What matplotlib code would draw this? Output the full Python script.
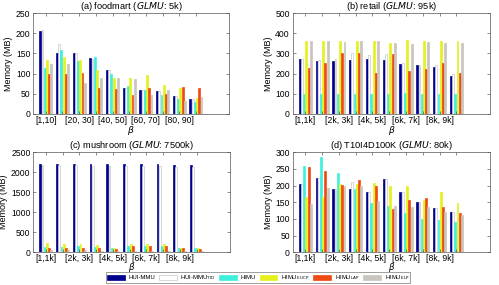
import matplotlib
matplotlib.use("Agg")
import matplotlib.pyplot as plt
import numpy as np
from matplotlib.patches import Patch

plt.rcParams['font.family'] = ['Liberation Sans', 'DejaVu Sans']

series_names = ['HUI-MMU', r'HUI-MMU$_{\mathrm{TID}}$', 'HIMU',
                r'HIMU$_{\mathrm{EUCP}}$', r'HIMU$_{\mathrm{LAP}}$', r'HIMU$_{\mathrm{ELP}}$']
colors = ['#00008f', '#ffffff', '#3ef0dc', '#e6f01e', '#f04a14', '#c9c5bd']
edgecolors = ['#00008f', '#c8c8c8', '#3ef0dc', '#e6f01e', '#f04a14', '#c9c5bd']

# (a) foodmart
labels_a = ['[1,10]', '', '[20, 30]', '', '[40, 50]', '', '[60, 70]', '', '[80, 90]', '']
a_huimmu = [206, 152, 150, 138, 108, 63, 58, 56, 43, 37]
a_tid    = [208, 174, 150, 136, 108, 63, 58, 56, 43, 37]
a_himu   = [113, 159, 131, 140, 100, 69, 58, 46, 37, 29]
a_eucp   = [134, 141, 133, 109, 89, 89, 96, 71, 63, 38]
a_lap    = [100, 100, 102, 64, 61, 47, 65, 49, 66, 63]
a_elp    = [124, 124, 76, 88, 88, 86, 47, 59, 32, 42]

# (b) retail
labels_b = ['[1,1k]', '', '[2k, 3k]', '', '[4k, 5k]', '', '[6k, 7k]', '', '[8k, 9k]', '']
b_huimmu = [271, 262, 261, 266, 272, 266, 246, 243, 234, 189]
b_tid    = [272, 266, 272, 301, 292, 297, 254, 243, 241, 198]
b_himu   = [100, 100, 100, 100, 100, 100, 103, 100, 100, 100]
b_eucp   = [362, 362, 362, 362, 362, 352, 367, 362, 360, 362]
b_lap    = [229, 251, 301, 304, 203, 296, 214, 221, 254, 201]
b_elp    = [362, 362, 357, 362, 362, 350, 349, 355, 352, 354]

# (c) mushroom
labels_c = labels_b
c_huimmu = [2216, 2216, 2207, 2207, 2207, 2207, 2199, 2199, 2182, 2174]
c_tid    = [2180, 2170, 2170, 2160, 2150, 2150, 2150, 2150, 2140, 2140]
c_himu   = [127, 127, 144, 127, 102, 161, 161, 153, 102, 102]
c_eucp   = [229, 203, 203, 170, 110, 195, 203, 195, 110, 110]
c_lap    = [102, 93, 93, 93, 85, 161, 161, 144, 93, 85]
c_elp    = [51, 51, 51, 42, 42, 42, 42, 42, 42, 34]

# (d) T10I4D100K
labels_d = labels_b
d_huimmu = [205, 224, 189, 189, 180, 219, 180, 150, 132, 120]
d_tid    = [205, 224, 189, 211, 180, 219, 180, 150, 132, 120]
d_himu   = [258, 286, 237, 190, 147, 140, 118, 100, 97, 90]
d_eucp   = [165, 166, 204, 204, 207, 200, 200, 157, 180, 147]
d_lap    = [255, 243, 202, 218, 200, 130, 156, 163, 137, 118]
d_elp    = [144, 192, 200, 200, 155, 140, 136, 135, 121, 111]

panels = [
    ('(a) foodmart (', '5k)', labels_a, [a_huimmu, a_tid, a_himu, a_eucp, a_lap, a_elp], 250, 50),
    ('(b) retail (', '95k)', labels_b, [b_huimmu, b_tid, b_himu, b_eucp, b_lap, b_elp], 500, 100),
    ('(c) mushroom (', '7500k)', labels_c, [c_huimmu, c_tid, c_himu, c_eucp, c_lap, c_elp], 2500, 500),
    ('(d) T10I4D100K (', '80k)', labels_d, [d_huimmu, d_tid, d_himu, d_eucp, d_lap, d_elp], 300, 50),
]

W, H = 499, 285
fig = plt.figure(figsize=(W / 100, H / 100), dpi=100)

boxes = [(33.3, 13.3, 229.3, 113.7), (292.7, 13.3, 490, 113.7),
         (33.3, 152.3, 230, 252.2), (292.7, 152.3, 490, 252.2)]

fs = 6.2
n = 6
gw = 0.8
slot = gw / n
for k, ((t1, t2, labels, data, ymax, ystep), (l, t, r, b)) in enumerate(zip(panels, boxes)):
    ax = fig.add_axes([l / W, 1 - b / H, (r - l) / W, (b - t) / H])
    x = np.arange(1, 11)
    for i in range(n):
        off = -gw / 2 + (i + 0.5) * slot
        ax.bar(x + off, data[i], width=slot * 0.85, color=colors[i],
               edgecolor=edgecolors[i], linewidth=0.5)
    ax.set_xlim(0.25, 12)
    ax.set_ylim(0, ymax)
    ax.set_yticks(np.arange(0, ymax + 1, ystep))
    ax.set_xticks(x)
    ax.set_xticklabels(labels)
    ax.tick_params(direction='in', length=2, width=0.4, labelsize=fs, pad=2,
                   top=True, right=True, colors='#333333', labelcolor='black')
    if k >= 2:
        ax.tick_params(axis='x', pad=1.5)
    for s in ax.spines.values():
        s.set_linewidth(0.5)
        s.set_color('#555555')
    ax.set_ylabel('Memory (MB)', fontsize=fs + 0.3, labelpad=2)
    ax.set_xlabel(r'$\beta$', fontsize=(fs + 0.5 if k < 2 else fs),
                  labelpad=(-1 if k < 2 else -1.8))
    ax.set_title(t1 + r'$\mathit{GLMU}$: ' + t2, fontsize=fs + 0.5, pad=3)

handles = [Patch(facecolor=c, edgecolor=(e if c == '#ffffff' else c), linewidth=0.5)
           for c, e in zip(colors, edgecolors)]
leg = fig.legend(handles, series_names, loc='center',
                 bbox_to_anchor=(258 / W, 1 - 277.8 / H), ncol=6,
                 fontsize=4.3, frameon=True, fancybox=False,
                 handlelength=3.0, handleheight=1.0, handletextpad=0.6,
                 columnspacing=0.6, borderpad=0.2, borderaxespad=0)
leg.get_frame().set_linewidth(0.5)
leg.get_frame().set_edgecolor('#555555')

fig.savefig('out.png', dpi=100)
